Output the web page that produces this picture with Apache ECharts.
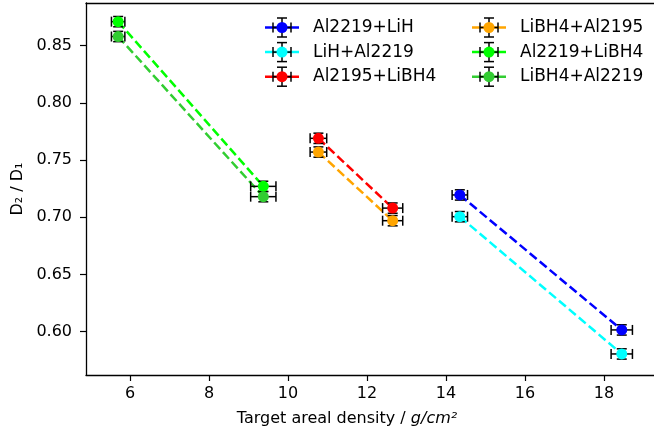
<!DOCTYPE html>
<html>
<head>
<meta charset="utf-8">
<script src="https://cdn.jsdelivr.net/npm/echarts@6/dist/echarts.min.js"></script>
<style>html,body{margin:0;padding:0;background:#fff;}#c{width:654px;height:437px;}</style>
</head>
<body>
<div id="c"></div>
<script>
// ---- data ----
const seriesNames = ['Al2219+LiH', 'LiH+Al2219', 'Al2195+LiBH4', 'LiBH4+Al2195', 'Al2219+LiBH4', 'LiBH4+Al2219'];
const seriesColors = ['#0000ff', '#00ffff', '#ff0000', '#ffa500', '#00ff00', '#32cd32'];
const xValues = [
  [14.35, 18.45],
  [14.35, 18.45],
  [10.77, 12.65],
  [10.77, 12.65],
  [5.70, 9.375],
  [5.70, 9.375]
];
const yValues = [
  [0.7195, 0.6015],
  [0.7005, 0.5805],
  [0.769, 0.708],
  [0.757, 0.697],
  [0.871, 0.727],
  [0.858, 0.718]
];
const xErrors = [
  [0.195, 0.27],
  [0.195, 0.27],
  [0.21, 0.255],
  [0.21, 0.255],
  [0.17, 0.32],
  [0.17, 0.32]
];
const yErrors = [
  [0.0045, 0.0045],
  [0.0045, 0.0045],
  [0.0045, 0.0045],
  [0.0045, 0.0045],
  [0.0045, 0.0045],
  [0.0045, 0.0045]
];
const xTicks = [6, 8, 10, 12, 14, 16, 18];
const yTicks = [0.60, 0.65, 0.70, 0.75, 0.80, 0.85];
const xRange = [4.886, 19.266];
const yRange = [0.5621, 0.8873];

// ---- layout constants ----
const FONT = 'DejaVu Sans';
const CAP = 5;
const legendCols = [265, 472];
const legendTop = 17.5;
const legendRowH = 24.6;
// circle centred at x=17 inside a 43x11 box (the extra width is the gap before the text)
const legendIcon = 'path://M0,0 M43,11 M22.5,5.5 A5.5,5.5 0 1,0 11.5,5.5 A5.5,5.5 0 1,0 22.5,5.5 Z';

function errRender(params, api) {
  const x = api.value(0), y = api.value(1), xe = api.value(2), ye = api.value(3);
  const c = api.coord([x, y]);
  const l = api.coord([x - xe, y]);
  const r = api.coord([x + xe, y]);
  const t = api.coord([x, y + ye]);
  const b = api.coord([x, y - ye]);
  const style = { stroke: '#000', lineWidth: 1.5, fill: null };
  const seg = (x1, y1, x2, y2) => ({ type: 'line', shape: { x1, y1, x2, y2 }, style });
  return {
    type: 'group',
    children: [
      seg(l[0], c[1], r[0], c[1]),
      seg(l[0], c[1] - CAP, l[0], c[1] + CAP),
      seg(r[0], c[1] - CAP, r[0], c[1] + CAP),
      seg(c[0], t[1], c[0], b[1]),
      seg(c[0] - CAP, t[1], c[0] + CAP, t[1]),
      seg(c[0] - CAP, b[1], c[0] + CAP, b[1])
    ]
  };
}

const series = [];
seriesNames.forEach((name, i) => {
  const pts = xValues[i].map((x, k) => [x, yValues[i][k]]);
  series.push({
    name, type: 'line', data: pts, showSymbol: false, symbol: 'circle', symbolSize: 11,
    color: seriesColors[i],
    itemStyle: { color: seriesColors[i] },
    lineStyle: { color: seriesColors[i], width: 2.5, type: [9, 4] },
    z: 1, silent: true, animation: false
  });
  series.push({
    type: 'custom', renderItem: errRender,
    data: xValues[i].map((x, k) => [x, yValues[i][k], xErrors[i][k], yErrors[i][k]]),
    z: 2, silent: true, animation: false, clip: false
  });
  series.push({
    name, type: 'scatter', data: pts, symbol: 'circle', symbolSize: 11,
    itemStyle: { color: seriesColors[i], opacity: 1 },
    z: 3, silent: true, animation: false
  });
});

// legend glyph decorations (line + error bar), drawn beneath the legend circles
const graphics = [];
seriesNames.forEach((name, i) => {
  const col = Math.floor(i / 3), row = i % 3;
  const x0 = legendCols[col], cy = legendTop + legendRowH * row + 10, cx = x0 + 17;
  const st = { stroke: '#000', lineWidth: 1.5 };
  graphics.push({ type: 'line', z: 1, shape: { x1: x0, y1: cy, x2: x0 + 34, y2: cy }, style: { stroke: seriesColors[i], lineWidth: 2.5 } });
  graphics.push({ type: 'line', z: 2, shape: { x1: cx - 9, y1: cy, x2: cx + 9, y2: cy }, style: st });
  graphics.push({ type: 'line', z: 2, shape: { x1: cx - 9, y1: cy - CAP, x2: cx - 9, y2: cy + CAP }, style: st });
  graphics.push({ type: 'line', z: 2, shape: { x1: cx + 9, y1: cy - CAP, x2: cx + 9, y2: cy + CAP }, style: st });
  graphics.push({ type: 'line', z: 2, shape: { x1: cx, y1: cy - 9.5, x2: cx, y2: cy + 9.5 }, style: st });
  graphics.push({ type: 'line', z: 2, shape: { x1: cx - CAP, y1: cy - 9.5, x2: cx + CAP, y2: cy - 9.5 }, style: st });
  graphics.push({ type: 'line', z: 2, shape: { x1: cx - CAP, y1: cy + 9.5, x2: cx + CAP, y2: cy + 9.5 }, style: st });
});

const legendBase = {
  orient: 'vertical', top: legendTop, padding: 0, itemGap: legendRowH - 20,
  icon: legendIcon, itemWidth: 43, itemHeight: 11, z: 10,
  textStyle: { fontFamily: FONT, fontSize: 17, color: '#000', lineHeight: 20 },
  selectedMode: false
};

const axisCommon = {
  axisLine: { show: true, onZero: false, lineStyle: { color: '#000', width: 1.3 } },
  splitLine: { show: false }
};

const option = {
  animation: false,
  backgroundColor: '#fff',
  grid: { left: 86, top: 3, right: 0, bottom: 62, containLabel: false },
  legend: [
    Object.assign({}, legendBase, { left: legendCols[0], data: seriesNames.slice(0, 3) }),
    Object.assign({}, legendBase, { left: legendCols[1], data: seriesNames.slice(3, 6) })
  ],
  graphic: graphics,
  xAxis: [
    Object.assign({}, axisCommon, {
      type: 'value', min: xRange[0], max: xRange[1], position: 'bottom',
      axisTick: { show: true, customValues: xTicks, length: 6, lineStyle: { color: '#000', width: 1.2 } },
      axisLabel: { customValues: xTicks, formatter: v => String(Math.round(v)), fontFamily: FONT, fontSize: 16, color: '#000', margin: 11 },
      name: 'Target areal density / {i|g/cm²}',
      nameLocation: 'middle', nameGap: 36,
      nameTextStyle: { fontFamily: FONT, fontSize: 16, color: '#000', padding: [0, 46, 0, 0],
        rich: { i: { fontFamily: FONT, fontSize: 16, fontStyle: 'italic', color: '#000' } } }
    }),
    Object.assign({}, axisCommon, {
      type: 'value', min: xRange[0], max: xRange[1], position: 'top',
      axisTick: { show: false }, axisLabel: { show: false }
    })
  ],
  yAxis: Object.assign({}, axisCommon, {
    type: 'value', min: yRange[0], max: yRange[1],
    axisTick: { show: true, customValues: yTicks, length: 6, lineStyle: { color: '#000', width: 1.2 } },
    axisLabel: { customValues: yTicks, formatter: v => v.toFixed(2), fontFamily: FONT, fontSize: 16, color: '#000', margin: 14 },
    name: 'D₂ / D₁',
    nameLocation: 'middle', nameGap: 58,
    nameTextStyle: { fontFamily: FONT, fontSize: 16, color: '#000' }
  }),
  series
};

const chart = echarts.init(document.getElementById('c'), null, { renderer: 'canvas' });
chart.setOption(option);
</script>
</body>
</html>
